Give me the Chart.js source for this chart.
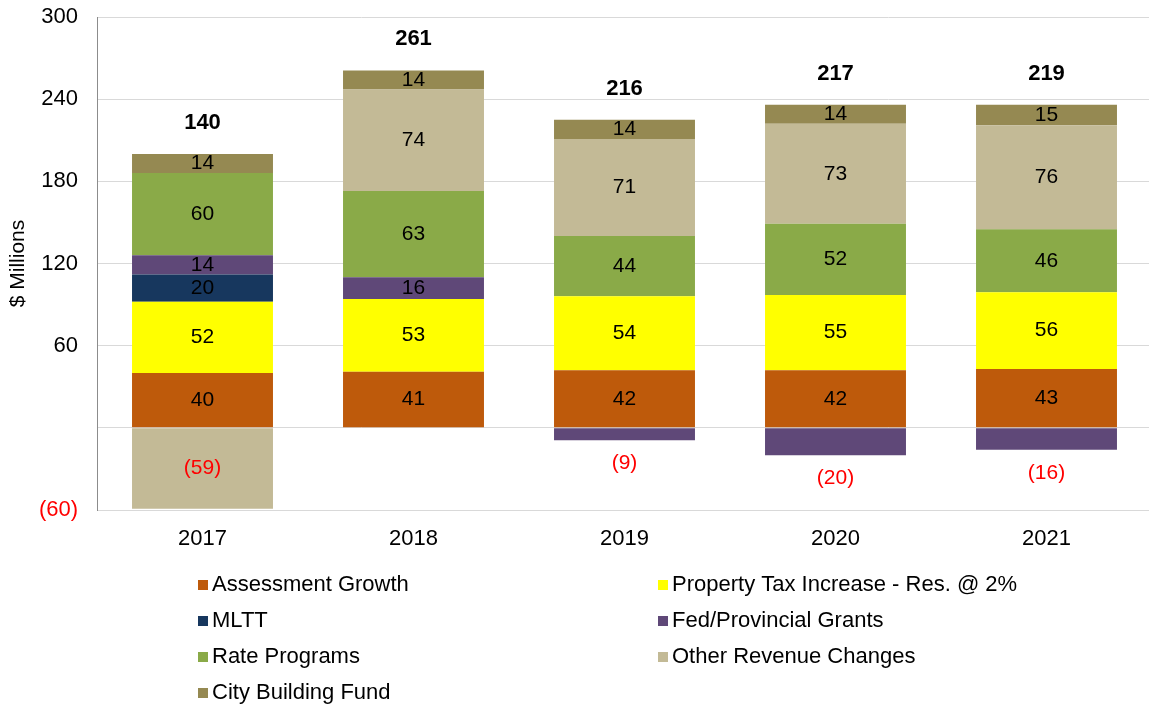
<!DOCTYPE html>
<html>
<head>
<meta charset="utf-8">
<script src="https://cdn.jsdelivr.net/npm/chart.js@4/dist/chart.umd.min.js"></script>
<style>
  html, body { margin: 0; padding: 0; background: #fff; overflow: hidden; }
  canvas { display: block; }
</style>
</head>
<body>
<canvas id="budgetChart" width="1152" height="707"></canvas>
<script>
// --- data ($ millions) ---
const years = ['2017', '2018', '2019', '2020', '2021'];

const assessmentGrowth = [40, 41, 42, 42, 43];
const propertyTax      = [52, 53, 54, 55, 56];
const mltt             = [20, null, null, null, null];
const fedProvGrants    = [14, 16, -9, -20, -16];
const ratePrograms     = [60, 63, 44, 52, 46];
const otherRevenue     = [-59, 74, 71, 73, 76];
const cityBuildingFund = [14, 14, 14, 14, 15];

// net change printed above each column
const netTotals = [140, 261, 216, 217, 219];

const FONT = '"Liberation Sans", Arial, sans-serif';

const fmt = v => v < 0 ? '(' + (-v) + ')' : String(v);

// value labels inside the segments, red (xx) for negatives, bold totals on top
const valueLabels = {
    id: 'valueLabels',
    afterDatasetsDraw(chart) {
        const ctx = chart.ctx;
        ctx.save();
        ctx.textAlign = 'center';
        ctx.textBaseline = 'middle';
        ctx.font = '21px ' + FONT;
        chart.data.datasets.forEach((ds, i) => {
            chart.getDatasetMeta(i).data.forEach((bar, j) => {
                const v = ds.data[j];
                if (v == null) return;
                const { x, y, base } = bar.getProps(['x', 'y', 'base'], true);
                const h = Math.abs(base - y);
                if (v < 0) {
                    ctx.fillStyle = '#FF0000';
                    ctx.fillText(fmt(v), x, h > 40 ? (y + base) / 2 : y + 23);
                } else {
                    ctx.fillStyle = '#000';
                    ctx.fillText(fmt(v), x, (y + base) / 2);
                }
            });
        });

        ctx.font = 'bold 22px ' + FONT;
        ctx.fillStyle = '#000';
        netTotals.forEach((t, j) => {
            let top = Infinity, x = 0;
            chart.data.datasets.forEach((ds, i) => {
                if (ds.data[j] > 0) {
                    const bar = chart.getDatasetMeta(i).data[j];
                    top = Math.min(top, bar.y);
                    x = bar.x;
                }
            });
            ctx.fillText(String(t), x, top - 31);
        });
        ctx.restore();
    }
};

// legend in two columns under the plot
const twoColLegend = {
    id: 'twoColLegend',
    afterDraw(chart) {
        const ctx = chart.ctx;
        const cols = [198, 658];
        ctx.save();
        ctx.font = '22px ' + FONT;
        ctx.textBaseline = 'middle';
        ctx.textAlign = 'left';
        chart.data.datasets.forEach((ds, i) => {
            const x = cols[i % 2];
            const y = 585 + Math.floor(i / 2) * 36;
            ctx.fillStyle = ds.backgroundColor;
            ctx.fillRect(x, y - 5, 10, 10);
            ctx.fillStyle = '#000';
            ctx.fillText(ds.label, x + 14, y);
        });
        ctx.restore();
    }
};

const series = [
    ['Assessment Growth', assessmentGrowth, '#BE5A0B'],
    ['Property Tax Increase - Res. @ 2%', propertyTax, '#FFFF00'],
    ['MLTT', mltt, '#17375E'],
    ['Fed/Provincial Grants', fedProvGrants, '#5F4878'],
    ['Rate Programs', ratePrograms, '#8AAA48'],
    ['Other Revenue Changes', otherRevenue, '#C3BA96'],
    ['City Building Fund', cityBuildingFund, '#958952']
];

new Chart(document.getElementById('budgetChart'), {
    type: 'bar',
    data: {
        labels: years,
        datasets: series.map(([label, data, color]) => ({
            label,
            data,
            backgroundColor: color,
            borderWidth: 0,
            categoryPercentage: 1,
            barPercentage: 0.668
        }))
    },
    options: {
        responsive: false,
        animation: false,
        layout: { padding: { top: 17, bottom: 147, left: 0, right: 0 } },
        plugins: {
            legend: { display: false },
            tooltip: { enabled: false }
        },
        scales: {
            x: {
                stacked: true,
                grid: { display: false, drawTicks: false },
                border: { color: '#d9d9d9', width: 1 },
                ticks: { color: '#000', font: { family: FONT, size: 22 }, padding: 16 },
                afterFit: s => { s.height = 50; }
            },
            y: {
                stacked: true,
                min: -60,
                max: 300,
                ticks: {
                    stepSize: 60,
                    padding: 19,
                    font: { family: FONT, size: 22 },
                    color: c => c.tick && c.tick.value < 0 ? '#FF0000' : '#000',
                    callback: v => v === 0 ? '' : fmt(v)
                },
                grid: { color: '#d9d9d9', lineWidth: 1, drawTicks: false },
                border: { color: '#8c8c8c', width: 1 },
                title: {
                    display: true,
                    text: '$ Millions',
                    color: '#000',
                    font: { family: FONT, size: 21 },
                    padding: { top: 6, bottom: 0 }
                },
                afterFit: s => {
                    s.width = 97;
                    // let the end tick labels hang over the layout padding
                    s.paddingTop = 0;
                    s.paddingBottom = 0;
                }
            }
        }
    },
    plugins: [valueLabels, twoColLegend]
});
</script>
</body>
</html>
